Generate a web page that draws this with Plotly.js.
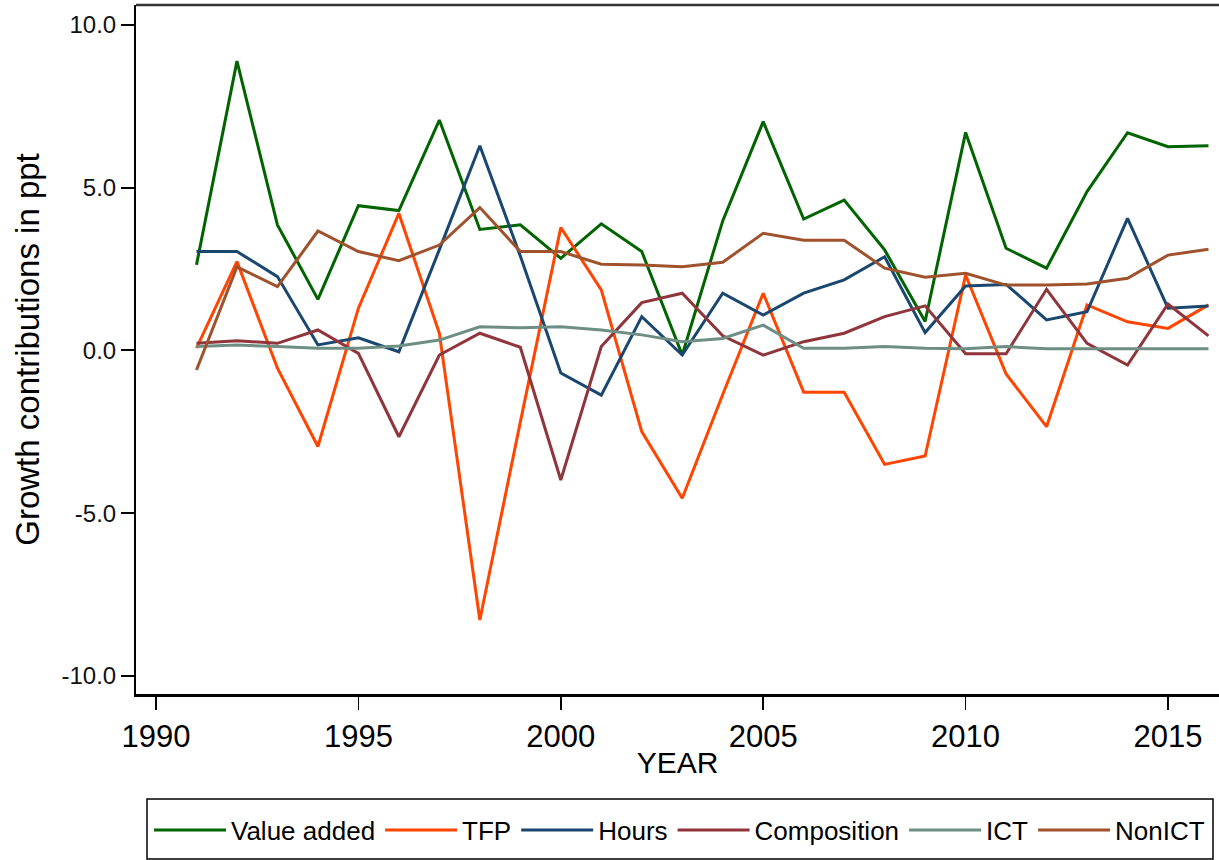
<!DOCTYPE html>
<html>
<head>
<meta charset="utf-8">
<script src="https://cdn.plot.ly/plotly-3.0.1.min.js"></script>
<style>html,body{margin:0;padding:0;background:#fff;}#chart{width:1219px;height:860px;}</style>
</head>
<body>
<div id="chart"></div>
<script>
const years = [1991,1992,1993,1994,1995,1996,1997,1998,1999,2000,2001,2002,2003,2004,2005,2006,2007,2008,2009,2010,2011,2012,2013,2014,2015,2016];

const valueAdded  = [2.63,8.89,3.86,1.57,4.45,4.30,7.08,3.72,3.86,2.83,3.89,3.04,-0.14,3.98,7.03,4.04,4.62,3.09,0.89,6.70,3.14,2.53,4.88,6.69,6.26,6.29];
const tfp         = [0.07,2.73,-0.54,-2.95,1.30,4.21,0.53,-8.28,-2.20,3.78,1.86,-2.49,-4.54,-1.35,1.76,-1.28,-1.28,-3.50,-3.24,2.32,-0.72,-2.34,1.40,0.88,0.68,1.40];
const hours       = [3.04,3.04,2.27,0.17,0.39,-0.04,3.10,6.29,2.90,-0.69,-1.37,1.04,-0.14,1.76,1.09,1.76,2.17,2.88,0.55,1.98,2.03,0.94,1.19,4.06,1.30,1.37];
const composition = [0.22,0.30,0.22,0.63,-0.09,-2.65,-0.14,0.53,0.10,-3.98,0.12,1.47,1.76,0.45,-0.14,0.27,0.53,1.04,1.37,-0.10,-0.10,1.88,0.22,-0.45,1.43,0.45];
const ict         = [0.12,0.17,0.12,0.07,0.07,0.14,0.32,0.73,0.70,0.73,0.63,0.48,0.27,0.37,0.78,0.07,0.07,0.12,0.07,0.05,0.12,0.05,0.05,0.05,0.05,0.05];
const nonICT      = [-0.60,2.57,1.96,3.67,3.04,2.76,3.24,4.39,3.04,3.04,2.65,2.63,2.57,2.71,3.60,3.39,3.39,2.53,2.25,2.37,2.01,2.01,2.04,2.22,2.93,3.11];

const seriesNames  = ["Value added","TFP","Hours","Composition","ICT","NonICT"];
const seriesValues = [valueAdded, tfp, hours, composition, ict, nonICT];
const seriesColors = ["#006400","#ff4500","#1a476f","#90353b","#6e8e84","#a0522d"];

const yTicks = [-10,-5,0,5,10];
const yTickText = ["-10.0","-5.0","0.0","5.0","10.0"];
const xTicks = [1990,1995,2000,2005,2010,2015];

const FONT = "Liberation Sans, Arial, Helvetica, sans-serif";

const traces = seriesNames.map((n,i)=>({
  type:"scatter", mode:"lines", name:n, x:years, y:seriesValues[i],
  line:{color:seriesColors[i], width:3}
}));

const layout = {
  width:1219, height:860,
  margin:{l:136, r:0, t:5, b:166, pad:0},
  paper_bgcolor:"#fff", plot_bgcolor:"#fff",
  font:{family:FONT, color:"#000"},
  showlegend:true,
  xaxis:{
    range:[1989.506, 2016.26], tickvals:xTicks, ticktext:xTicks.map(String),
    showgrid:false, zeroline:false, showline:true, linecolor:"#000", linewidth:2.5,
    ticks:"outside", ticklen:13, tickwidth:1.5, tickcolor:"#000",
    tickfont:{size:31, family:FONT, color:"#000"},
    title:{text:"YEAR", font:{size:30, family:FONT, color:"#000"}, standoff:0},
    automargin:false
  },
  yaxis:{
    range:[-10.553, 10.614], tickvals:yTicks, ticktext:yTickText,
    showgrid:false, zeroline:false, showline:true, linecolor:"#000", linewidth:2,
    ticks:"outside", ticklen:13, tickwidth:2, tickcolor:"#000",
    tickfont:{size:24, family:FONT, color:"#111"},
    title:{text:"Growth contributions in ppt", font:{size:33, family:FONT, color:"#000"}, standoff:12},
    automargin:false
  },
  shapes:[
    {type:"line", xref:"paper", yref:"paper", x0:0, x1:1, y0:1, y1:1, line:{color:"#333", width:2.5}},
    {type:"rect", xref:"paper", yref:"paper", x0:0.01016, x1:0.99446, y0:-0.23948, y1:-0.15240, line:{color:"#000", width:1.5}, fillcolor:"rgba(0,0,0,0)"}
  ],
  legend:{
    orientation:"h", x:0.0120, xanchor:"left", y:-0.1974, yanchor:"middle",
    borderwidth:0, bgcolor:"rgba(0,0,0,0)",
    font:{size:26, family:FONT, color:"#000"},
    itemwidth:72, traceorder:"normal"
  }
};

Plotly.newPlot("chart", traces, layout, {displayModeBar:false, staticPlot:true});
</script>
</body>
</html>
